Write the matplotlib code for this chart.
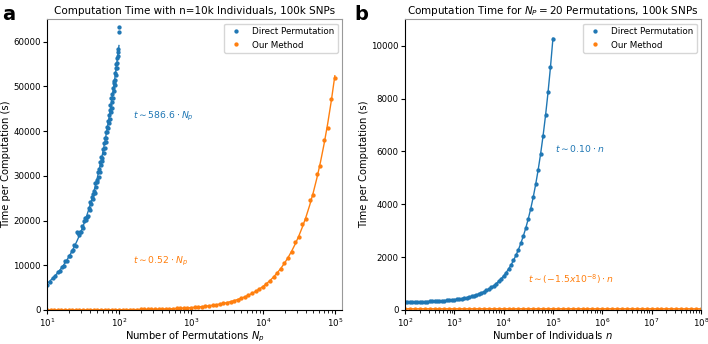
import numpy as np
import matplotlib
matplotlib.use("Agg")
import matplotlib.pyplot as plt

c_blue = '#1f77b4'
c_orange = '#ff7f0e'

# ---- panel a : n = 10k individuals, varying number of permutations
perm_direct = list(range(10, 101))
time_direct = [5500, 6200, 7100, 7500, 8400, 8700, 9600, 9800, 10900, 11000,
               12000, 12100, 13200, 13300, 14500, 14400, 17400, 17100, 16700, 17500,
               17400, 18800, 18300, 19900, 20500, 20100, 20700, 21000, 22900, 22300,
               24200, 23600, 25300, 24700, 25900, 26600, 26200, 28400, 27600, 29100,
               28700, 30800, 29800, 31600, 30900, 33000, 32300, 34100, 33400, 33900,
               36100, 35200, 37400, 36200, 38500, 37600, 39700, 38400, 40900, 39700,
               42200, 40600, 43500, 41900, 44700, 42800, 45900, 44200, 47400, 45100,
               48300, 46400, 49600, 47500, 50800, 48900, 51300, 50200, 52900, 51500,
               54100, 52600, 55000, 54000, 56400, 55200, 57600, 56700, 58400, 62100,
               63200]

perm_ours = [10, 11.2, 12.6, 14.1, 15.8, 17.8, 20, 22.4, 25.1, 28.2,
             31.6, 35.5, 39.8, 44.7, 50.1, 56.2, 63.1, 70.8, 79.4, 89.1,
             100, 112, 126, 141, 158, 178, 200, 224, 251, 282,
             316, 355, 398, 447, 501, 562, 631, 708, 794, 891,
             1000, 1122, 1259, 1413, 1585, 1778, 1995, 2239, 2512, 2818,
             3162, 3548, 3981, 4467, 5012, 5623, 6310, 7079, 7943, 8913,
             10000, 11220, 12589, 14125, 15849, 17783, 19953, 22387, 25119, 28184,
             31623, 35481, 39811, 44668, 50119, 56234, 63096, 70795, 79433, 89125,
             100000]
time_ours = [5, 6, 7, 7, 8, 9, 10, 12, 13, 15,
             16, 18, 21, 23, 26, 29, 33, 37, 41, 46,
             52, 58, 66, 73, 82, 93, 104, 116, 131, 147,
             164, 185, 207, 232, 261, 292, 328, 368, 413, 463,
             520, 583, 655, 733, 822, 925, 1040, 1165, 1306, 1466,
             1644, 1846, 2070, 2324, 2605, 2922, 3281, 3682, 4129, 4635,
             5200, 5830, 6540, 7340, 8230, 9250, 10400, 11660, 13060, 15300,
             16200, 19200, 20300, 24500, 25600, 30400, 32200, 38000, 40600, 47200,
             51900]

# ---- panel b : Np = 20 permutations, varying number of individuals
n_direct = [100, 112, 126, 141, 158, 178, 200, 224, 251, 282,
            316, 355, 398, 447, 501, 562, 631, 708, 794, 891,
            1000, 1122, 1259, 1413, 1585, 1778, 1995, 2239, 2512, 2818,
            3162, 3548, 3981, 4467, 5012, 5623, 6310, 7079, 7943, 8913,
            10000, 11220, 12589, 14125, 15849, 17783, 19953, 22387, 25119, 28184,
            31623, 35481, 39811, 44668, 50119, 56234, 63096, 70795, 79433, 89125,
            100000]
t_direct_n = [300, 301, 303, 304, 306, 308, 310, 312, 315, 318,
              322, 326, 330, 335, 340, 346, 353, 361, 369, 379,
              390, 402, 416, 431, 449, 468, 490, 514, 541, 572,
              606, 645, 688, 737, 791, 852, 921, 998, 1084, 1181,
              1290, 1412, 1549, 1703, 1875, 2068, 2285, 2529, 2802, 3108,
              3452, 3838, 4271, 4757, 5302, 5913, 6600, 7369, 8233, 9202,
              10250]

n_ours = [100, 126, 158, 200, 251, 316, 398, 501, 631, 794,
          1000, 1259, 1585, 1995, 2512, 3162, 3981, 5012, 6310, 7943,
          1e4, 1.26e4, 1.58e4, 2e4, 2.51e4, 3.16e4, 3.98e4, 5.01e4, 6.31e4, 7.94e4,
          1e5, 1.26e5, 1.58e5, 2e5, 2.51e5, 3.16e5, 3.98e5, 5.01e5, 6.31e5, 7.94e5,
          1e6, 1.26e6, 1.58e6, 2e6, 2.51e6, 3.16e6, 3.98e6, 5.01e6, 6.31e6, 7.94e6,
          1e7, 1.26e7, 1.58e7, 2e7, 2.51e7, 3.16e7, 3.98e7, 5.01e7, 6.31e7, 7.94e7,
          1e8]
t_ours_n = [46, 44, 47, 45, 43, 46, 48, 44, 45, 47,
            43, 46, 45, 44, 47, 45, 46, 43, 45, 47,
            44, 46, 45, 43, 46, 44, 47, 45, 44, 46,
            45, 43, 46, 44, 47, 45, 44, 46, 43, 45,
            46, 44, 45, 47, 43, 45, 46, 44, 45, 43,
            46, 44, 45, 43, 45, 44, 46, 43, 44, 43,
            43]


def fit_origin(x, y):
    x = np.asarray(x, float)
    y = np.asarray(y, float)
    k = np.linalg.lstsq(x[:, None], y, rcond=None)[0][0]
    return x, k * x


def fit_line(x, y):
    x = np.asarray(x, float)
    p = np.polyfit(x, y, 1)
    return x, np.polyval(p, x)


fig = plt.figure(figsize=(7.08, 3.44), dpi=100)
ax1 = fig.add_axes([0.0664, 0.099, 0.4167, 0.845])
ax2 = fig.add_axes([0.572, 0.099, 0.418, 0.845])

ms = 4.2
fs_lab = 7.2
fs_tick = 6.2

# panel a
ax1.plot(perm_direct, time_direct, '.', color=c_blue, ms=ms, label='Direct Permutation')
ax1.plot(perm_ours, time_ours, '.', color=c_orange, ms=ms, label='Our Method')
xf, yf = fit_origin(perm_direct, time_direct)
ax1.plot(xf, yf, '-', color=c_blue, lw=1)
xf, yf = fit_origin(perm_ours, time_ours)
ax1.plot(xf, yf, '-', color=c_orange, lw=1)
ax1.set_xscale('log')
ax1.set_xlim(10, 10 ** 5.1)
ax1.set_ylim(0, 65000)
ax1.set_title('Computation Time with n=10k Individuals, 100k SNPs', fontsize=7.5, pad=4)
ax1.set_xlabel('Number of Permutations $N_p$', fontsize=fs_lab, labelpad=0.5)
ax1.set_ylabel('Time per Computation (s)', fontsize=fs_lab, labelpad=1.5)
ax1.text(155, 43200, r'$t\sim 586.6 \cdot N_p$', color=c_blue, fontsize=6.7, va='center')
ax1.text(155, 10750, r'$t\sim 0.52 \cdot N_p$', color=c_orange, fontsize=6.7, va='center')
ax1.legend(loc='upper right', fontsize=6.3)

# panel b
ax2.plot(n_direct, t_direct_n, '.', color=c_blue, ms=ms, label='Direct Permutation')
ax2.plot(n_ours, t_ours_n, '.', color=c_orange, ms=ms, label='Our Method')
xf, yf = fit_line(n_direct, t_direct_n)
ax2.plot(xf, yf, '-', color=c_blue, lw=1)
xf, yf = fit_line(n_ours, t_ours_n)
ax2.plot(xf, yf, '-', color=c_orange, lw=1)
ax2.set_xscale('log')
ax2.set_xlim(100, 1e8)
ax2.set_ylim(0, 11000)
ax2.set_title('Computation Time for $N_P=20$ Permutations, 100k SNPs', fontsize=7.5, pad=4)
ax2.set_xlabel('Number of Individuals $n$', fontsize=fs_lab, labelpad=0.5)
ax2.set_ylabel('Time per Computation (s)', fontsize=fs_lab, labelpad=1.5)
ax2.text(1.1e5, 6100, r'$t\sim 0.10 \cdot n$', color=c_blue, fontsize=6.7, va='center')
ax2.text(3.1e4, 1150, r'$t\sim (-1.5x10^{-8}) \cdot n$', color=c_orange, fontsize=6.7, va='center')
ax2.legend(loc='upper right', fontsize=6.3)

for ax in (ax1, ax2):
    ax.tick_params(labelsize=fs_tick, length=3, pad=1.5)
    ax.tick_params(which='minor', length=1.8)
    ax.spines['top'].set_color('#999999')
    ax.spines['right'].set_color('#999999')

fig.text(0.003, 0.985, 'a', fontsize=14, weight='bold', va='top')
fig.text(0.500, 0.985, 'b', fontsize=14, weight='bold', va='top')

fig.savefig('out.png', dpi=100)
